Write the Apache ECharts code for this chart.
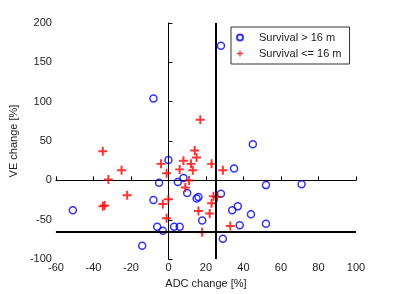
<!DOCTYPE html>
<html>
<head>
<meta charset="utf-8">
<script src="https://cdn.jsdelivr.net/npm/echarts@6/dist/echarts.min.js"></script>
<style>
  html, body { margin: 0; padding: 0; background: #fff; }
  #chart { width: 393px; height: 294px; }
</style>
</head>
<body>
<div id="chart"></div>
<script>
// survival > 16 months: [ADC change %, VE change %]
const longSurvival = [
  [-51, -38], [-14, -83], [-8, -25], [-5, -3], [0, 26], [-6, -59], [-3, -64],
  [3, -59], [6, -59], [5, -2], [8, 3], [10, -16], [15, -23], [16, -21],
  [18, -51], [45, 46], [35, 15], [52, -6], [71, -5], [28, -17], [34, -38],
  [37, -33], [44, -43], [52, -55], [38, -57], [29, -74], [-8, 104], [28, 171]
]
// survival <= 16 months
const shortSurvival = [
  [-35, 37], [-25, 13], [-32, 1], [-22, -19], [-35, -33], [-34, -32],
  [-4, 21], [-1, 9], [0, -24], [-3, -30], [-1, -48], [8, 25], [6, 14],
  [9, -9], [12, 21], [13, 13], [11, 0], [14, 38], [15, 29], [16, -39],
  [23, 21], [29, 13], [24, -20], [26, -21], [23, -29], [22, -42],
  [33, -58], [18, -66], [17, 77]
]
// threshold lines
const adcCut = 25
const veCut = -65
const xRange = [-60, 100]
const yRange = [-100, 200]

const font = 'Liberation Sans, Arial, sans-serif'
const textColor = '#222'
const plusPath = 'path://M0.39,0H0.61V0.39H1V0.61H0.61V1H0.39V0.61H0V0.39H0.39Z'

const chart = echarts.init(document.getElementById('chart'))

chart.setOption({
  animation: false,
  textStyle: { fontFamily: font },
  grid: { left: 52, right: 37, top: 23, bottom: 32 },
  legend: {
    left: 231,
    top: 27,
    orient: 'vertical',
    itemWidth: 28,
    itemHeight: 6,
    itemGap: 3,
    padding: [4, 8, 4, 5],
    borderColor: '#333',
    borderWidth: 1,
    backgroundColor: '#fff',
    textStyle: { fontSize: 11, color: textColor, fontFamily: font, lineHeight: 13 },
    data: ['Survival > 16 m', 'Survival <= 16 m']
  },
  xAxis: {
    type: 'value',
    min: xRange[0],
    max: xRange[1],
    interval: 20,
    name: 'ADC change [%]',
    nameLocation: 'middle',
    nameGap: 16,
    nameTextStyle: { fontSize: 11, color: textColor },
    axisLine: { lineStyle: { color: '#000', width: 1 } },
    axisTick: { inside: true, length: 4, lineStyle: { color: '#000' } },
    axisLabel: { fontSize: 11, color: textColor, margin: 3 },
    splitLine: { show: false }
  },
  yAxis: {
    type: 'value',
    min: yRange[0],
    max: yRange[1],
    interval: 50,
    name: 'VE change [%]',
    nameLocation: 'middle',
    nameGap: 30,
    nameTextStyle: { fontSize: 11, color: textColor },
    axisLine: { show: true, lineStyle: { color: '#000', width: 1 } },
    axisTick: { show: true, inside: true, length: 4, lineStyle: { color: '#000' } },
    axisLabel: { fontSize: 11, color: textColor, margin: 4 },
    splitLine: { show: false }
  },
  series: [
    {
      name: 'Survival > 16 m',
      type: 'scatter',
      symbol: 'circle',
      symbolSize: 7,
      itemStyle: { color: 'rgba(0,0,0,0)', borderColor: '#0000ee', borderWidth: 1.5 },
      data: longSurvival,
      z: 3
    },
    {
      name: 'Survival <= 16 m',
      type: 'scatter',
      symbol: plusPath,
      symbolSize: 9,
      itemStyle: { color: '#ff0000' },
      data: shortSurvival,
      z: 3,
      markLine: {
        silent: true,
        symbol: 'none',
        label: { show: false },
        lineStyle: { color: '#000', width: 2, type: 'solid' },
        data: [
          [{ coord: [adcCut, yRange[0]] }, { coord: [adcCut, yRange[1]] }],
          [{ coord: [xRange[0], veCut] }, { coord: [xRange[1], veCut] }]
        ]
      }
    }
  ]
})
</script>
</body>
</html>
